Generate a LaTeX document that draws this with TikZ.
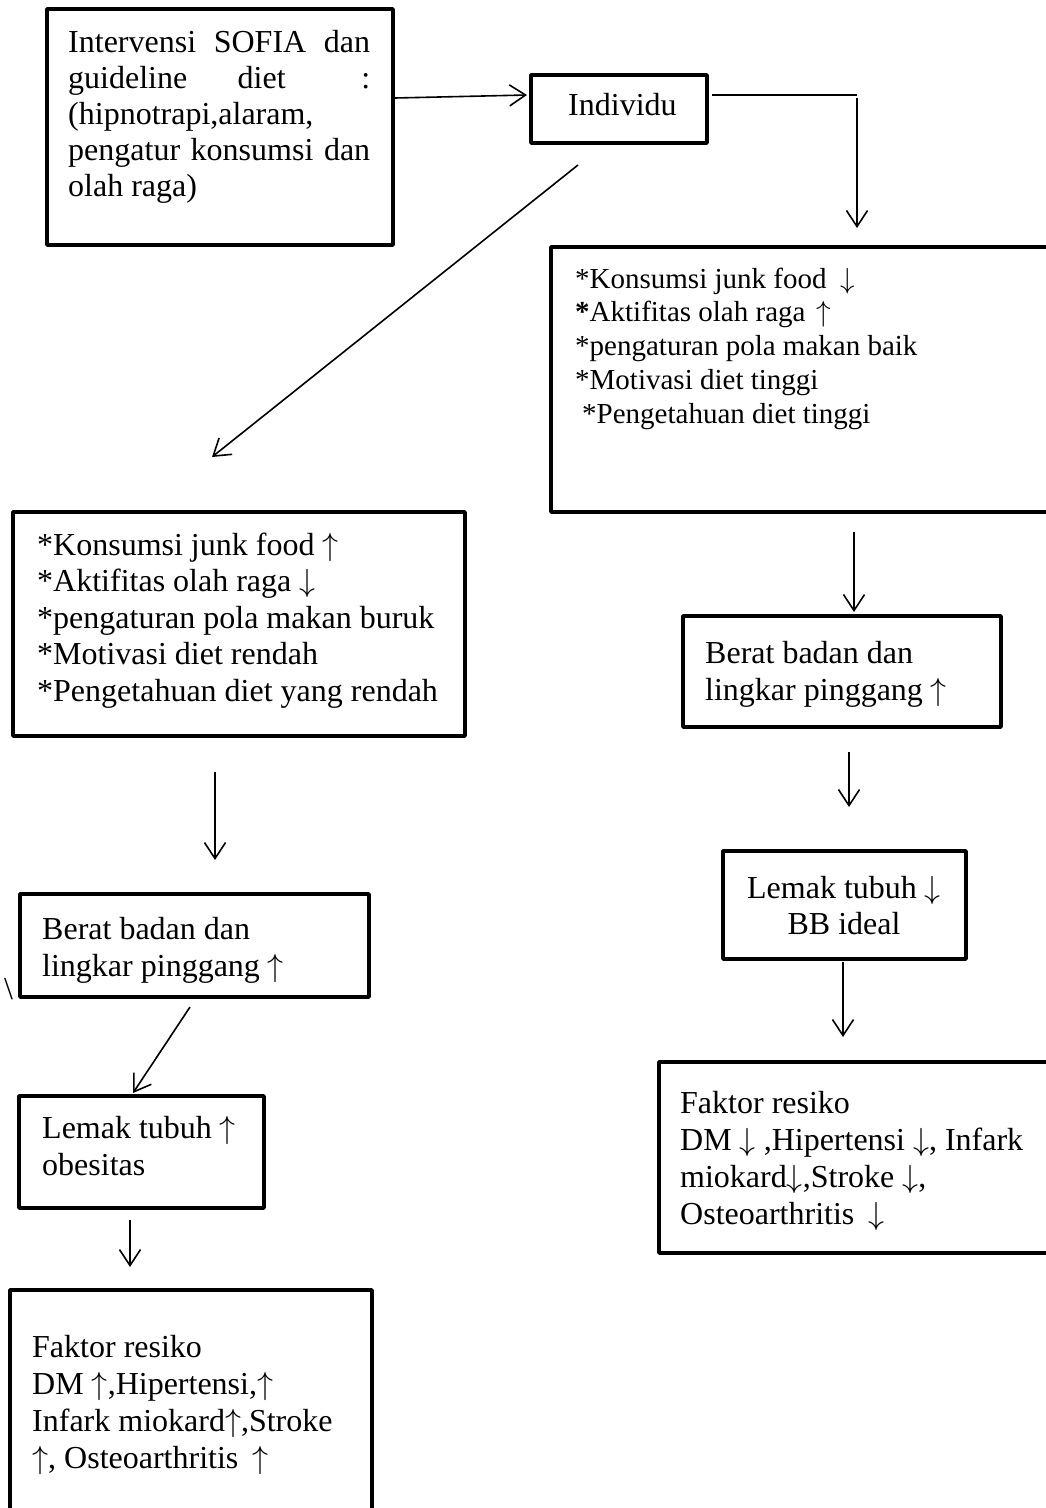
\RequirePackage{fix-cm}
\documentclass[tikz,border=0pt]{standalone}
\usepackage{fontspec}
\setmainfont{Liberation Serif}
\usetikzlibrary{arrows.meta}
\newcommand{\UpA}{$\uparrow$}
\newcommand{\DnA}{$\downarrow$}
\begin{document}
\begin{tikzpicture}[x=1pt,y=-1pt,
  box/.style={draw, line width=3.6pt, line join=round, inner sep=0pt},
  txt/.style={inner sep=0pt, anchor=base west, font=\fontsize{32}{36.5}\selectfont},
  txtsmall/.style={inner sep=0pt, anchor=base west, font=\fontsize{29}{33.5}\selectfont},
  arr/.style={line width=1.6pt, -{Straight Barb[length=16pt,width=21pt]}},
  plain/.style={line width=1.6pt}]
\useasboundingbox (0,0) rectangle (1046,1508);
\fill[white] (0,0) rectangle (1046,1508);
\clip (0,0) rectangle (1046,1508);

% boxes (center-line geometry)
\node[box, minimum width=346pt, minimum height=236pt] (intv) at (220,127) {};
\node[box, minimum width=176pt, minimum height=68pt] (indiv) at (619,109) {};
\node[box, minimum width=509pt, minimum height=265pt] (rb1) at (805.5,379.5) {};
\node[box, minimum width=452pt, minimum height=224pt] (lb2) at (239,624) {};
\node[box, minimum width=318pt, minimum height=111pt] (rberat) at (842,671.5) {};
\node[box, minimum width=243pt, minimum height=108pt] (rlemak) at (844.5,905) {};
\node[box, minimum width=401pt, minimum height=191pt] (rfaktor) at (859.5,1157.5) {};
\node[box, minimum width=349pt, minimum height=103pt] (lberat) at (194.5,945.5) {};
\node[box, minimum width=245pt, minimum height=112pt] (llemak) at (141.5,1152) {};
\node[box, minimum width=362pt, minimum height=230pt] (lfaktor) at (191,1405) {};

% texts
\node[txt] (tintv) at (68,52) {\vtop{\baselineskip=36.2pt
  \hbox to 302pt{Intervensi\hfill SOFIA\hfill dan}
  \hbox to 302pt{guideline\hskip 0pt plus 1fill diet\hskip 0pt plus 1.5fill :}
  \hbox{(hipnotrapi,alaram,}
  \hbox to 302pt{pengatur\hfill konsumsi\hfill dan}
  \hbox{olah raga)}}};
\node[txt] (tindiv) at (568,115) {Individu};
\node[txtsmall] (trb1) at (575,288) {\vtop{\baselineskip=33.75pt
  \hbox{*Konsumsi junk food\hspace{14pt}\DnA}
  \hbox{\textbf{*}Aktifitas olah raga\hspace{11pt}\UpA}
  \hbox{*pengaturan pola makan baik}
  \hbox{*Motivasi diet tinggi}
  \hbox{\hspace{7pt}*Pengetahuan diet tinggi}}};
\node[txt] (tlb2) at (37,555) {\vtop{\baselineskip=36.5pt
  \hbox{*Konsumsi junk food \UpA}
  \hbox{*Aktifitas olah raga \DnA}
  \hbox{*pengaturan pola makan buruk}
  \hbox{*Motivasi diet rendah}
  \hbox{*Pengetahuan diet yang rendah}}};
\node[txt] (trberat) at (705,663) {\vtop{\baselineskip=37pt
  \hbox{Berat badan dan}
  \hbox{lingkar pinggang \UpA}}};
\node[txt, anchor=base] (trlemak1) at (844,898) {Lemak tubuh \DnA};
\node[txt, anchor=base] (trlemak2) at (844,934) {BB ideal};
\node[txt] (trfaktor) at (680,1113) {\vtop{\baselineskip=37pt
  \hbox{Faktor resiko}
  \hbox{DM \DnA\ ,Hipertensi \DnA, Infark}
  \hbox{miokard\DnA,Stroke \DnA,}
  \hbox{Osteoarthritis\hspace{14pt}\DnA}}};
\node[txt] (tlberat) at (42,939) {\vtop{\baselineskip=37pt
  \hbox{Berat badan dan}
  \hbox{lingkar pinggang \UpA}}};
\node[txt] (tbs) at (4,999) {\textbackslash};
\node[txt] (tllemak) at (42,1138) {\vtop{\baselineskip=37pt
  \hbox{Lemak tubuh \UpA}
  \hbox{obesitas}}};
\node[txt] (tlfaktor) at (32,1357) {\vtop{\baselineskip=37pt
  \hbox{Faktor resiko}
  \hbox{DM \UpA,Hipertensi,\UpA}
  \hbox{Infark miokard\UpA,Stroke}
  \hbox{\UpA, Osteoarthritis\hspace{14pt}\UpA}}};

% connector end points
\coordinate (a1) at (395,98);
\coordinate (a2) at (527,95);
\coordinate (b1) at (712,95);
\coordinate (b2) at (857,95);
\coordinate (b3) at (857,98);
\coordinate (b4) at (857,228);
\coordinate (c1) at (578,165);
\coordinate (c2) at (212,457);
\coordinate (d1) at (215,772);
\coordinate (d2) at (215,860);
\coordinate (e1) at (854,532);
\coordinate (e2) at (854,612);
\coordinate (f1) at (849,752);
\coordinate (f2) at (849,807);
\coordinate (g1) at (843,962);
\coordinate (g2) at (843,1037);
\coordinate (h1) at (190,1007);
\coordinate (h2) at (133,1093);
\coordinate (i1) at (130,1220);
\coordinate (i2) at (130,1267);

\draw[arr] (a1) -- (a2);
\draw[plain] (b1) -- (b2);
\draw[arr] (b3) -- (b4);
\draw[arr] (c1) -- (c2);
\draw[arr] (d1) -- (d2);
\draw[arr] (e1) -- (e2);
\draw[arr] (f1) -- (f2);
\draw[arr] (g1) -- (g2);
\draw[arr] (h1) -- (h2);
\draw[arr] (i1) -- (i2);
\end{tikzpicture}
\end{document}
